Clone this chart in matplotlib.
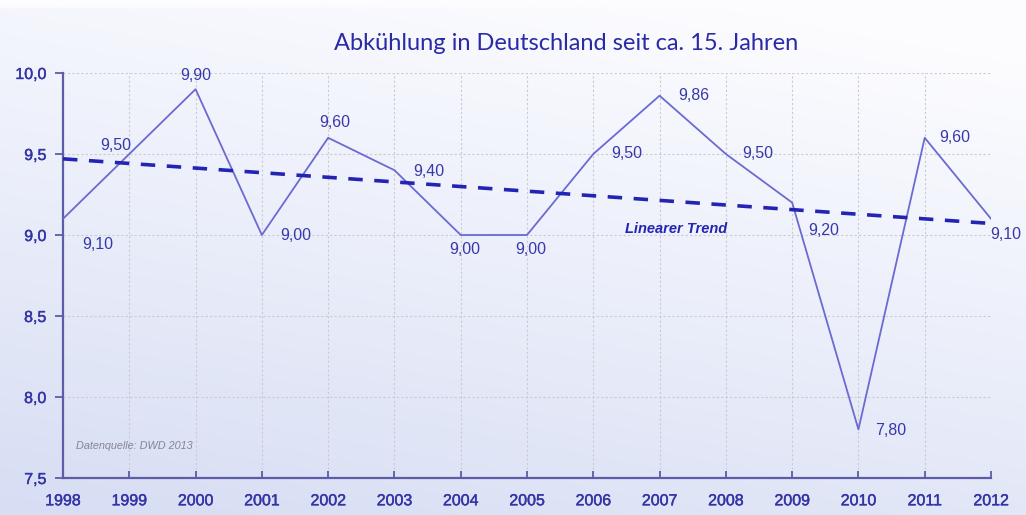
import numpy as np
import matplotlib
matplotlib.use("Agg")
import matplotlib.pyplot as plt
import matplotlib.patheffects as pe
from matplotlib.colors import LinearSegmentedColormap

years = [1998, 1999, 2000, 2001, 2002, 2003, 2004, 2005, 2006, 2007, 2008, 2009, 2010, 2011, 2012]
temps = [9.10, 9.50, 9.90, 9.00, 9.60, 9.40, 9.00, 9.00, 9.50, 9.86, 9.50, 9.20, 7.80, 9.60, 9.10]
value_labels = ["9,10", "9,50", "9,90", "9,00", "9,60", "9,40", "9,00", "9,00", "9,50", "9,86",
                "9,50", "9,20", "7,80", "9,60", "9,10"]
y_ticks = [7.5, 8.0, 8.5, 9.0, 9.5, 10.0]
y_tick_labels = ["7,5", "8,0", "8,5", "9,0", "9,5", "10,0"]
title = "Abkühlung in Deutschland seit ca. 15. Jahren"
trend_label = "Linearer Trend"
source_label = "Datenquelle: DWD 2013"

# label offsets in pixels (dx right, dy down)
label_offsets = [(35, 26), (-14, -9), (0, -14), (34, 0), (7, -15), (34, 1), (4, 15), (4, 15),
                 (33, 0), (34, 0), (32, 0), (32, 28), (32, 1), (30, 0), (15, 16)]

W, H = 1026, 515
fig = plt.figure(figsize=(W / 100, H / 100), dpi=100)

# background gradient
bg = fig.add_axes([0, 0, 1, 1], zorder=-10)
yy, xx = np.mgrid[0:1:200j, 0:1:400j]
g = np.clip(0.8 * yy + 0.3 * xx, 0, 1)  # yy: 0 bottom -> 1 top
g[-3:, :] = 1.0
cmap = LinearSegmentedColormap.from_list("bg", ["#d7ddf3", "#eaeefa", "#fcfcff"])
bg.imshow(g, origin="lower", cmap=cmap, aspect="auto", extent=[0, 1, 0, 1], vmin=0, vmax=1)
bg.axis("off")

ax = fig.add_axes([63 / W, 1 - 478 / H, (991 - 63) / W, (478 - 73) / H])
ax.patch.set_alpha(0)

line_col = "#6a6ad2"
trend_col = "#2424b4"
text_col = "#3434a6"
semi = [pe.withStroke(linewidth=0.3, foreground=text_col)]

ax.plot(years, temps, color=line_col, lw=1.3, zorder=3)

# linear trend from data
coef = np.polyfit(years, temps, 1)
ax.plot([years[0], years[-1]], np.polyval(coef, [years[0], years[-1]]),
        color=trend_col, lw=2.6, dashes=(4, 3.2), zorder=4)

for x, y, lab, (dx, dy) in zip(years, temps, value_labels, label_offsets):
    ax.annotate(lab, (x, y), xytext=(dx, -dy), textcoords="offset pixels",
                ha="center", va="center", fontsize=11.5, color="#3838aa",
                family="Liberation Sans", zorder=5)

ax.set_xlim(years[0], years[-1])
ax.set_ylim(7.5, 10.0)
ax.set_xticks(years)
ax.set_xticklabels([str(y) for y in years], family="Liberation Sans", fontsize=11.5,
                   color=text_col, path_effects=semi)
ax.set_yticks(y_ticks)
ax.set_yticklabels(y_tick_labels, family="Liberation Sans", fontsize=11.5,
                   color=text_col, path_effects=semi)

ax.tick_params(axis="x", direction="in", length=5, width=1.3, color="#5c5ca8", pad=11)
ax.tick_params(axis="y", direction="out", length=6, width=1.3, color="#5c5ca8", pad=6)

for s in ["top", "right"]:
    ax.spines[s].set_visible(False)
for s in ["left", "bottom"]:
    ax.spines[s].set_color("#5c5ca8")
    ax.spines[s].set_linewidth(1.6)

ax.grid(True, color="#cacad2", lw=0.8, linestyle=(0, (2, 2)), zorder=0)
ax.set_axisbelow(True)

fig.text(676 / W, 1 - 229 / H, trend_label, ha="center", va="center", fontsize=10.5,
         fontweight="bold", fontstyle="italic", color=trend_col, family="Liberation Sans")
fig.text(76 / W, 1 - 446 / H, source_label, ha="left", va="center", fontsize=7.8,
         fontstyle="italic", color="#85859a", family="Liberation Sans")
fig.text(566 / W, 1 - 44 / H, title, ha="center", va="center", fontsize=17,
         color="#2a2aa8", family="Lato")

fig.savefig("out.png", dpi=100)
